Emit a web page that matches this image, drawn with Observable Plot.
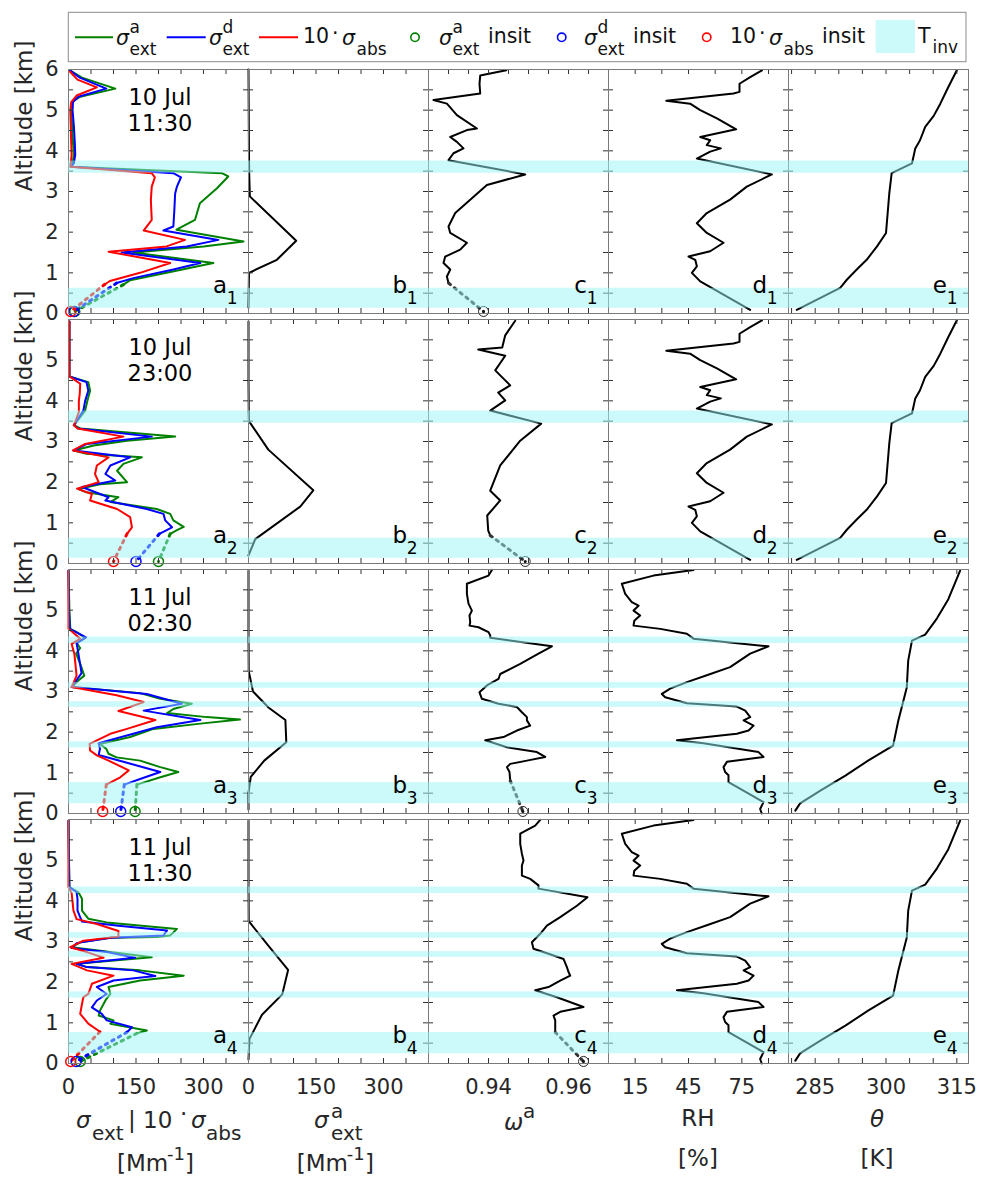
<!DOCTYPE html>
<html><head><meta charset="utf-8">
<script src="https://cdn.jsdelivr.net/npm/d3@7"></script>
<script src="https://cdn.jsdelivr.net/npm/@observablehq/plot@0.6"></script>
<style>
body{margin:0;background:#fff;font-family:"DejaVu Sans",sans-serif;}
#fig{position:relative;width:982px;height:1179px;overflow:hidden;}
</style></head><body><div id="fig"></div>
<script>
// ---------------- DATA ----------------
const dates = ["10 Jul\n11:30", "10 Jul\n23:00", "11 Jul\n02:30", "11 Jul\n11:30"];
const yLabelsTop = [0, 1, 2, 3, 4, 5, 6];
const yLabels = [0, 1, 2, 3, 4, 5];
const yMinor = [0, 0.5, 1, 1.5, 2, 2.5, 3, 3.5, 4, 4.5, 5, 5.5, 6];
const bands10Jul = [[3.45, 3.75], [0.13, 0.62]];
const bands11Jul = [[4.18, 4.34], [3.08, 3.22], [2.61, 2.75], [1.61, 1.76], [0.24, 0.76]];
const groundAlt = 0.05;

// column a : [value (Mm-1), altitude (km)]
const extA_1 = [[3,5.98],[30,5.8],[104,5.53],[26,5.33],[8,5.2],[6,5.0],[8,4.6],[10,4.2],[12,3.9],[9,3.7],[5,3.61],[341,3.45],[355,3.37],[330,3.08],[292,2.71],[281,2.30],[240,2.06],[389,1.77],[300,1.65],[144,1.50],[322,1.24],[218,1.0],[137,0.82],[122,0.71]];
const extD_1 = [[3,5.98],[25,5.8],[84,5.53],[22,5.33],[10,5.2],[9,5.0],[12,4.6],[14,4.2],[15,3.9],[12,3.7],[6,3.61],[233,3.45],[250,3.35],[241,3.12],[237,2.95],[235,2.5],[233,2.14],[211,2.04],[333,1.81],[263,1.65],[118,1.50],[293,1.24],[233,1.08],[144,0.87],[107,0.75]];
const abs10_1 = [[3,5.95],[20,5.75],[63,5.56],[18,5.36],[6,5.2],[4,5.0],[5,4.6],[6,4.2],[7,3.9],[5,3.7],[4,3.61],[185,3.45],[192,3.35],[185,3.12],[183,2.79],[185,2.30],[167,2.04],[259,1.81],[218,1.65],[89,1.52],[226,1.24],[159,1.0],[92,0.8],[81,0.72]];

const extA_2 = [[2,5.95],[2,5.0],[2,4.6],[44,4.46],[48,4.25],[42,4.0],[37,3.76],[26,3.6],[12,3.4],[26,3.32],[237,3.12],[130,3.02],[56,2.9],[12,2.78],[40,2.7],[163,2.61],[122,2.45],[108,2.28],[130,2.0],[70,1.95],[22,1.83],[40,1.75],[111,1.63],[93,1.51],[196,1.34],[226,1.22],[233,1.06],[256,0.9],[241,0.82],[226,0.73]];
const extD_2 = [[2,5.95],[2,4.6],[40,4.46],[44,4.25],[37,4.0],[33,3.76],[12,3.4],[22,3.32],[185,3.12],[41,2.94],[12,2.78],[137,2.61],[93,2.41],[82,2.2],[104,2.04],[30,1.88],[89,1.63],[82,1.55],[174,1.34],[211,1.22],[215,1.06],[230,0.89],[202,0.73]];
const abs10_2 = [[2,5.95],[2,4.6],[26,4.42],[25,4.17],[23,4.0],[23,3.72],[12,3.4],[20,3.32],[122,3.12],[37,2.94],[10,2.78],[89,2.61],[63,2.41],[59,2.2],[67,2.0],[19,1.84],[52,1.71],[48,1.55],[108,1.34],[137,1.14],[141,0.89],[130,0.73]];

const extA_3 = [[0,5.97],[1,5.5],[2,5.0],[4,4.54],[18,4.46],[37,4.32],[18,4.19],[26,4.07],[17,3.93],[26,3.68],[35,3.39],[22,3.27],[7,3.11],[159,2.96],[204,2.82],[274,2.70],[233,2.57],[219,2.47],[307,2.37],[381,2.31],[293,2.21],[189,2.08],[137,1.88],[70,1.71],[84,1.59],[89,1.47],[107,1.38],[159,1.30],[204,1.14],[244,1.02],[204,0.89],[152,0.71]];
const extD_3 = [[0,5.97],[1,5.0],[3,4.54],[39,4.33],[18,4.19],[22,3.93],[29,3.45],[7,3.11],[174,2.94],[252,2.70],[167,2.53],[293,2.30],[196,2.12],[144,1.96],[67,1.73],[70,1.59],[67,1.44],[126,1.26],[204,1.02],[159,0.85],[124,0.71]];
const abs10_3 = [[0,5.97],[0,4.55],[26,4.30],[7,4.17],[13,3.93],[18,3.39],[7,3.11],[107,2.91],[167,2.74],[111,2.52],[193,2.30],[130,2.08],[93,1.96],[47,1.71],[48,1.55],[63,1.43],[89,1.30],[134,1.06],[115,0.89],[84,0.71]];

const extA_4 = [[0,5.97],[1,5.0],[2,4.34],[22,4.21],[30,4.05],[30,3.76],[44,3.56],[85,3.47],[241,3.31],[226,3.15],[196,3.11],[93,3.09],[26,2.98],[7,2.86],[93,2.74],[185,2.61],[18,2.45],[41,2.37],[159,2.29],[256,2.16],[159,2.04],[89,1.88],[93,1.71],[82,1.55],[70,1.30],[67,1.18],[100,1.06],[93,0.98],[174,0.81],[152,0.74]];
const extD_4 = [[0,5.97],[1,5.0],[2,4.34],[18,4.21],[20,4.05],[20,3.76],[30,3.49],[111,3.39],[219,3.27],[211,3.15],[93,3.09],[18,2.96],[7,2.84],[85,2.74],[148,2.60],[18,2.45],[41,2.37],[144,2.29],[193,2.15],[100,2.04],[63,1.88],[85,1.71],[63,1.55],[52,1.38],[74,1.22],[85,1.06],[141,0.89],[130,0.77]];
const abs10_4 = [[0,5.97],[0,4.34],[7,4.19],[11,3.76],[18,3.55],[63,3.43],[111,3.26],[111,3.12],[33,3.02],[4,2.86],[41,2.74],[78,2.60],[7,2.45],[41,2.29],[100,2.16],[52,1.96],[44,1.71],[33,1.63],[30,1.47],[26,1.22],[44,0.98],[70,0.78]];

// in-situ values at the ground
const insituExtA = [14, 200, 148, 26];
const insituExtD = [12, 150, 116, 17];
const insituAbs10 = [5, 100, 76, 5];
const insituOmega = [0.93875, 0.94918, 0.94860, 0.96375];

// column b : sigma_ext^a
const extB_1 = [[0,6],[0.5,5],[1,4],[1.5,3.45],[3,2.88],[106,1.79],[63,1.32],[1,1.0],[0.5,0.5],[0,0.15]];
const extB_2 = [[0,5.95],[0,4.5],[0.5,3.8],[1,3.5],[44,2.8],[144,1.8],[115,1.4],[15,0.6],[0,0.2]];
const extB_3 = [[0,5.97],[0,4.5],[0.5,3.5],[10,3.0],[45,2.6],[82,2.3],[84,1.75],[35,1.3],[5,0.9],[0,0.5],[0,0.1]];
const extB_4 = [[0,5.97],[0,4.5],[0.5,3.5],[44,2.9],[88,2.3],[75,1.7],[30,1.2],[2,0.6],[0,0.1]];

// column c : single scattering albedo
const omega_1 = [[0.94443,5.98],[0.93793,5.85],[0.93775,5.65],[0.93793,5.41],[0.92625,5.25],[0.92960,5.16],[0.93210,4.88],[0.93710,4.55],[0.93460,4.51],[0.93043,4.34],[0.93210,4.22],[0.93375,4.06],[0.93125,3.94],[0.93000,3.77],[0.94918,3.42],[0.93960,3.16],[0.93543,2.80],[0.93168,2.47],[0.93000,2.14],[0.93043,1.98],[0.93460,1.74],[0.93293,1.57],[0.92918,1.40],[0.92875,1.24],[0.93043,1.08],[0.92960,0.91],[0.93000,0.75]];
const omega_2 = [[0.94668,5.97],[0.94418,5.61],[0.94343,5.31],[0.93743,5.26],[0.94418,5.11],[0.94168,4.75],[0.94543,4.38],[0.94243,4.20],[0.94418,4.01],[0.94043,3.76],[0.95318,3.44],[0.94793,3.02],[0.94293,2.41],[0.94043,1.79],[0.94293,1.55],[0.93968,1.18],[0.93993,0.81],[0.94043,0.69]];
const omega_3 = [[0.94085,5.99],[0.94000,5.85],[0.93460,5.65],[0.93460,5.40],[0.93500,5.16],[0.93585,4.99],[0.93525,4.87],[0.93543,4.70],[0.93525,4.62],[0.93750,4.58],[0.94000,4.46],[0.94043,4.38],[0.94043,4.32],[0.95585,4.11],[0.95250,3.93],[0.94793,3.68],[0.94293,3.43],[0.94250,3.31],[0.93960,3.15],[0.93775,2.98],[0.93835,2.82],[0.94250,2.70],[0.94710,2.62],[0.94835,2.49],[0.94960,2.37],[0.94960,2.29],[0.95043,2.16],[0.94710,2.04],[0.94375,1.88],[0.93918,1.80],[0.94460,1.63],[0.95210,1.51],[0.95418,1.39],[0.94960,1.30],[0.94543,1.22],[0.94460,1.14],[0.94525,1.02],[0.94543,0.81]];
const omega_4 = [[0.95293,5.99],[0.95168,5.85],[0.94793,5.65],[0.94793,5.40],[0.94835,5.16],[0.94875,4.99],[0.94835,4.87],[0.94835,4.62],[0.95043,4.54],[0.95250,4.38],[0.95250,4.30],[0.96475,4.09],[0.96210,3.88],[0.95793,3.60],[0.95460,3.39],[0.95293,3.19],[0.95085,2.98],[0.95125,2.82],[0.95500,2.70],[0.95875,2.57],[0.95960,2.37],[0.96000,2.25],[0.96043,2.16],[0.95793,2.04],[0.95500,1.88],[0.95168,1.80],[0.95710,1.63],[0.96375,1.39],[0.95793,1.27],[0.95625,1.18],[0.95668,1.06],[0.95668,0.77]];

// column d : relative humidity (%)
const rh_10Jul = [[86.3,5.98],[79.7,5.81],[73.7,5.65],[73.7,5.45],[70.3,5.41],[32.5,5.23],[45.9,5.16],[51.6,5.0],[61,4.8],[71.8,4.53],[51.6,4.34],[57.2,4.26],[55.3,4.14],[63.2,4.06],[57.2,3.98],[49.7,3.81],[91.9,3.42],[77.8,3.12],[68.4,2.80],[55.3,2.47],[49.7,2.22],[55.3,1.98],[64.7,1.74],[57.2,1.53],[45.0,1.40],[48.8,1.32],[49.7,1.16],[46.9,1.0],[51.6,0.79],[79.7,0.09]];
const rh_11Jul = [[47.8,5.99],[25.3,5.85],[7.5,5.65],[9.4,5.40],[13.1,5.2],[16.9,5.11],[14.1,4.99],[17.8,4.87],[14.5,4.74],[14.1,4.62],[29.1,4.54],[44.1,4.42],[47.8,4.30],[90.0,4.11],[79.7,3.93],[68.4,3.60],[55.3,3.40],[44.1,3.23],[34.7,3.07],[30.0,2.94],[31.9,2.86],[44.1,2.71],[72.2,2.63],[76.9,2.53],[79.7,2.37],[76.0,2.29],[81.6,2.16],[78.8,2.04],[72.2,1.96],[38.5,1.80],[53.4,1.73],[84.4,1.51],[87.2,1.39],[66.6,1.27],[64.7,1.14],[65.6,1.02],[67.5,0.94],[67.5,0.77],[87.2,0.28],[85.3,0.11],[86.2,0.0]];

// column e : potential temperature (K)
const theta_10Jul = [[315.0,5.98],[313.2,5.57],[311.5,5.16],[310.1,4.86],[308.3,4.59],[307.2,4.26],[306.2,4.06],[305.5,3.69],[301.2,3.45],[300.7,2.96],[300.0,1.98],[298.1,1.65],[295.9,1.32],[293.8,1.08],[291.7,0.83],[290.3,0.63],[281.1,0.09]];
const theta_11Jul = [[315.7,5.97],[313.2,5.27],[310.8,4.8],[308.3,4.4],[305.5,4.25],[304.7,3.76],[304.4,3.1],[302.6,2.28],[301.5,1.67],[296.2,1.3],[291.4,0.93],[286.1,0.56],[281.8,0.25],[280.8,0.07]];

// axes
const xCols = [
  {letter: "a", domain: [0, 400], minor: [0,50,100,150,200,250,300,350,400], labels: [0,150,300], fmt: d3.format("d")},
  {letter: "b", domain: [0, 400], minor: [0,50,100,150,200,250,300,350,400], labels: [0,150,300], fmt: d3.format("d")},
  {letter: "c", domain: [0.925, 0.97], minor: [0.925,0.93,0.935,0.94,0.945,0.95,0.955,0.96,0.965,0.97], labels: [0.94,0.96], fmt: d3.format(".2f")},
  {letter: "d", domain: [0, 101.25], minor: [0,15,30,45,60,75,90], labels: [15,45,75], fmt: d3.format("d")},
  {letter: "e", domain: [279.35, 317.47], minor: [280,285,290,295,300,305,310,315], labels: [285,300,315], fmt: d3.format("d")}
];

const rows = [
  {date: dates[0], bands: bands10Jul, A: extA_1, D: extD_1, R: abs10_1, B: extB_1, C: omega_1, RH: rh_10Jul, T: theta_10Jul},
  {date: dates[1], bands: bands10Jul, A: extA_2, D: extD_2, R: abs10_2, B: extB_2, C: omega_2, RH: rh_10Jul, T: theta_10Jul},
  {date: dates[2], bands: bands11Jul, A: extA_3, D: extD_3, R: abs10_3, B: extB_3, C: omega_3, RH: rh_11Jul, T: theta_11Jul},
  {date: dates[3], bands: bands11Jul, A: extA_4, D: extD_4, R: abs10_4, B: extB_4, C: omega_4, RH: rh_11Jul, T: theta_11Jul}
];

const COL = {green: "#008000", blue: "#0000ff", red: "#ff0000", black: "#000000", band: "#99f5f5", text: "#262626"};

// ---------------- LAYOUT ----------------
const W = 180, H = 244, M = 70;
const colX = [68.3, 248.3, 428.3, 608.3, 788.3];
const rowY = [69.3, 319.3, 569.3, 819.3];
const fig = document.getElementById("fig");

const X = d => d[0], Y = d => d[1];

function profile(data, stroke) {
  return Plot.line(data, {x: X, y: Y, stroke, strokeWidth: 2, strokeLinejoin: "round"});
}
function dotted(data, insituValue, stroke) {
  const last = data[data.length - 1];
  return Plot.line([last, [insituValue, groundAlt]], {x: X, y: Y, stroke, strokeWidth: 3, strokeDasharray: "2.5,5"});
}

function makePanel(ri, ci) {
  const row = rows[ri], col = xCols[ci];
  const marks = [];
  if (ci === 0) {
    marks.push(profile(row.A, COL.green), profile(row.D, COL.blue), profile(row.R, COL.red));
    marks.push(dotted(row.A, insituExtA[ri], COL.green), dotted(row.D, insituExtD[ri], COL.blue), dotted(row.R, insituAbs10[ri], COL.red));
    marks.push(Plot.dot([[insituExtA[ri], groundAlt]], {x: X, y: Y, r: 5, stroke: COL.green, strokeWidth: 1.5, fill: "none"}));
    marks.push(Plot.dot([[insituExtD[ri], groundAlt]], {x: X, y: Y, r: 5, stroke: COL.blue, strokeWidth: 1.5, fill: "none"}));
    marks.push(Plot.dot([[insituAbs10[ri], groundAlt]], {x: X, y: Y, r: 5, stroke: COL.red, strokeWidth: 1.5, fill: "none"}));
  } else if (ci === 1) {
    marks.push(profile(row.B, COL.black));
  } else if (ci === 2) {
    marks.push(profile(row.C, COL.black));
    marks.push(dotted(row.C, insituOmega[ri], "#333"));
    marks.push(Plot.dot([[insituOmega[ri], groundAlt]], {x: X, y: Y, r: 5, stroke: "#222", strokeWidth: 1, fill: "none"}));
    marks.push(Plot.dot([[insituOmega[ri], groundAlt]], {x: X, y: Y, r: 1.5, fill: "#111"}));
  } else if (ci === 3) {
    marks.push(profile(row.RH, COL.black));
  } else {
    marks.push(profile(row.T, COL.black));
  }
  // inward ticks on all four sides
  marks.push(Plot.tickY(yMinor, {y: d => d, insetRight: W - 5, stroke: "#333"}));
  marks.push(Plot.tickY(yMinor, {y: d => d, insetLeft: W - 5, stroke: "#333"}));
  marks.push(Plot.tickX(col.minor, {x: d => d, insetBottom: H - 5, stroke: "#333"}));
  marks.push(Plot.tickX(col.minor, {x: d => d, insetTop: H - 5, stroke: "#333"}));
  marks.push(Plot.frame({stroke: "#7a7a7a", strokeWidth: 1}));
  // temperature inversion bands
  marks.push(Plot.rect(row.bands, {y1: d => d[0], y2: d => d[1], fill: COL.band, fillOpacity: 0.5}));
  // panel labels
  marks.push(Plot.text([col.letter], {text: d => d, frameAnchor: "bottom-right", dx: -21.5, dy: -20.5, textAnchor: "end", lineAnchor: "bottom", fontSize: 23, fill: "#000"}));
  marks.push(Plot.text([String(ri + 1)], {text: d => d, frameAnchor: "bottom-right", dx: -11, dy: -10, textAnchor: "end", lineAnchor: "bottom", fontSize: 17, fill: "#000"}));
  if (ci === 0) {
    marks.push(Plot.text([row.date], {text: d => d, frameAnchor: "top", dx: 1.5, dy: 18, lineAnchor: "top", fontSize: 22.5, lineHeight: 1.12, fill: "#000"}));
    marks.push(Plot.text(["Altitude [km]"], {text: d => d, frameAnchor: "left", rotate: -90, dx: -44, fontSize: 23, fill: COL.text}));
  }
  const svg = Plot.plot({
    width: W + 2 * M, height: H + 2 * M, margin: M,
    x: {domain: col.domain, axis: ri === 3 ? "bottom" : null, ticks: col.labels, tickFormat: col.fmt, tickSize: 0, tickPadding: 16, label: null},
    y: {domain: [0, 6], axis: ci === 0 ? "left" : null, ticks: ri === 0 ? yLabelsTop : yLabels, tickFormat: d3.format("d"), tickSize: 0, tickPadding: 10, label: null},
    style: {background: "transparent", fontFamily: "DejaVu Sans", fontSize: "21px", color: COL.text, overflow: "visible"},
    marks
  });
  svg.style.position = "absolute";
  svg.style.left = (colX[ci] - M) + "px";
  svg.style.top = (rowY[ri] - M) + "px";
  svg.style.maxWidth = "none";
  fig.appendChild(svg);
}

for (let r = 0; r < 4; r++) for (let c = 0; c < 5; c++) makePanel(r, c);

// ---------------- LEGEND & AXIS TITLES ----------------
const ov = d3.select(fig).append("svg")
  .attr("width", 982).attr("height", 1179)
  .style("position", "absolute").style("left", "0px").style("top", "0px")
  .style("pointer-events", "none")
  .attr("font-family", "DejaVu Sans");

function t(x, y, s, size, o = {}) {
  ov.append("text").attr("x", x).attr("y", y).attr("font-size", size)
    .attr("font-style", o.it ? "italic" : null)
    .attr("text-anchor", o.anchor || "start")
    .attr("fill", o.fill || COL.text).text(s);
}
// legend box
ov.append("rect").attr("x", 68.3).attr("y", 12.3).attr("width", 897.7).attr("height", 49.4)
  .attr("fill", "#fff").attr("stroke", "#8c8c8c").attr("stroke-width", 1);
const LB = 43.3, LSUP = 33, LSUB = 55, LF = 20.5, LS = 17, LC = "#111";
function legLine(x1, x2, c) { ov.append("line").attr("x1", x1).attr("x2", x2).attr("y1", 37.3).attr("y2", 37.3).attr("stroke", c).attr("stroke-width", 2); }
function legCircle(cx, c) { ov.append("circle").attr("cx", cx).attr("cy", 37.3).attr("r", 4.2).attr("fill", "none").attr("stroke", c).attr("stroke-width", 1.6); }
function sigmaSupSub(x, sup, sub) {
  t(x, LB + 1.5, "σ", LF, {it: true, fill: LC});
  if (sup) t(x + 13.5, LSUP, sup, LS, {fill: LC});
  t(x + 13.5, LSUB, sub, LS, {fill: LC});
}
legLine(75, 113, COL.green); sigmaSupSub(116, "a", "ext");
legLine(166.7, 205.7, COL.blue); sigmaSupSub(209, "d", "ext");
legLine(259, 298, COL.red); t(303, LB, "10", LF, {fill: LC}); t(332, 40, "·", LF, {fill: LC}); t(342, LB + 1.5, "σ", LF, {it: true, fill: LC}); t(356.5, LSUB, "abs", LS, {fill: LC});
legCircle(415, COL.green); sigmaSupSub(439, "a", "ext"); t(488, LB, "insit", LF, {fill: LC});
legCircle(561.7, COL.blue); sigmaSupSub(584, "d", "ext"); t(633, LB, "insit", LF, {fill: LC});
legCircle(706.7, COL.red); t(730, LB, "10", LF, {fill: LC}); t(759, 40, "·", LF, {fill: LC}); t(769, LB + 1.5, "σ", LF, {it: true, fill: LC}); t(783.5, LSUB, "abs", LS, {fill: LC}); t(822, LB, "insit", LF, {fill: LC});
ov.append("rect").attr("x", 875.7).attr("y", 20).attr("width", 39.3).attr("height", 33).attr("fill", COL.band).attr("fill-opacity", 0.5);
t(918, LB, "T", LF, {fill: LC}); t(932.5, 53, "inv", LS, {fill: LC});

// bottom axis titles
t(76, 1128, "σ", 23, {it: true}); t(92, 1140, "ext", 20); t(128, 1128, "| 10", 23); t(180, 1122, "·", 23); t(191, 1128, "σ", 23, {it: true}); t(206, 1140, "abs", 20);
t(117, 1171, "[Mm", 23); t(167, 1160, "-1", 18); t(185, 1171, "]", 23);
t(314, 1128, "σ", 23, {it: true}); t(331, 1118, "a", 20); t(331, 1140, "ext", 20);
t(296.7, 1171, "[Mm", 23); t(346.7, 1160, "-1", 18); t(365, 1171, "]", 23);
t(504, 1130, "ω", 23, {it: true}); t(523, 1118, "a", 20);
t(698, 1126, "RH", 23, {anchor: "middle"}); t(698, 1166, "[%]", 23, {anchor: "middle"});
t(877, 1127, "θ", 23, {it: true, anchor: "middle"}); t(877, 1166, "[K]", 23, {anchor: "middle"});
</script></body></html>
